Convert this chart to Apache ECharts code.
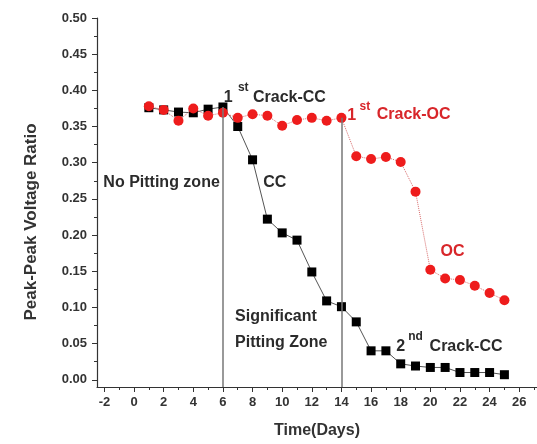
<!DOCTYPE html>
<html>
<head>
<meta charset="utf-8">
<script src="https://cdn.jsdelivr.net/npm/echarts@6/dist/echarts.min.js"></script>
<style>
html,body{margin:0;padding:0;background:#fff;}
#chart{width:537px;height:444px;}
</style>
</head>
<body>
<div id="chart"></div>
<script>
// ---- data ----
const ccDays = [1,2,3,4,5,6,7,8,9,10,11,12,13,14,15,16,17,18,19,20,21,22,23,24,25];
const ccValues = [0.376,0.373,0.370,0.369,0.374,0.377,0.350,0.304,0.222,0.203,0.193,0.149,0.109,0.101,0.080,0.040,0.040,0.022,0.019,0.017,0.017,0.010,0.010,0.010,0.007];
const ocDays = [1,2,3,4,5,6,7,8,9,10,11,12,13,14,15,16,17,18,19,20,21,22,23,24,25];
const ocValues = [0.378,0.373,0.358,0.375,0.365,0.369,0.362,0.367,0.365,0.351,0.359,0.362,0.358,0.362,0.309,0.305,0.308,0.301,0.260,0.152,0.140,0.138,0.130,0.120,0.110];
const xMajorTicks = [-2,0,2,4,6,8,10,12,14,16,18,20,22,24,26];
const xMinorTicks = [-1,1,3,5,7,9,11,13,15,17,19,21,23,25,27];
const yMajorTicks = [0,0.05,0.1,0.15,0.2,0.25,0.3,0.35,0.4,0.45,0.5];
const yMinorTicks = [0.025,0.075,0.125,0.175,0.225,0.275,0.325,0.375,0.425,0.475];
const crackLines = [[6,0.377],[14,0.362]];
// annotations: [text, day, value, color, size, align]
const BLK = '#2b2b2b', RED = '#d8262a';
const notes = [
  ['1', 6.35, 0.390, BLK, 16, 'center'],
  ['st', 7.37, 0.403, BLK, 12, 'center'],
  ['Crack-CC', 8.03, 0.390, BLK, 16, 'left'],
  ['1', 14.7, 0.365, RED, 16, 'center'],
  ['st', 15.58, 0.377, RED, 12, 'center'],
  ['Crack-OC', 16.38, 0.366, RED, 16, 'left'],
  ['No Pitting zone', -2.07, 0.272, BLK, 16, 'left'],
  ['CC', 9.5, 0.273, BLK, 16, 'center'],
  ['OC', 21.5, 0.177, RED, 16, 'center'],
  ['Significant', 6.82, 0.087, BLK, 16, 'left'],
  ['Pitting Zone', 6.82, 0.052, BLK, 16, 'left'],
  ['2', 18.0, 0.046, BLK, 16, 'center'],
  ['nd', 19.0, 0.059, BLK, 12, 'center'],
  ['Crack-CC', 19.95, 0.046, BLK, 16, 'left']
];

const FONT = '"Liberation Sans", Arial, sans-serif';
const X_MIN = -2.5, X_MAX = 27.2, Y_MIN = -0.01, Y_MAX = 0.5;

const chart = echarts.init(document.getElementById('chart'), null, {renderer:'canvas'});

const xBase = {
  type:'value', min:X_MIN, max:X_MAX, position:'bottom',
  splitLine:{show:false}
};
const yBase = {
  type:'value', min:Y_MIN, max:Y_MAX, position:'left',
  splitLine:{show:false}
};

const option = {
  animation:false,
  backgroundColor:'#fff',
  grid:{left:97, top:18, right:0, bottom:57, containLabel:false},
  xAxis:[
    Object.assign({}, xBase, {
      axisLine:{show:true, onZero:false, lineStyle:{color:'#333', width:1.2}},
      axisTick:{show:true, customValues:xMajorTicks, length:5, inside:false, lineStyle:{color:'#333'}},
      axisLabel:{show:true, customValues:xMajorTicks, margin:9, color:'#333', fontSize:13, fontWeight:'bold', fontFamily:FONT,
        formatter:(v)=>String(Math.round(v))},
      name:'Time(Days)', nameLocation:'middle', nameGap:36,
      nameTextStyle:{color:'#333', fontSize:16, fontWeight:'bold', fontFamily:FONT}
    }),
    Object.assign({}, xBase, {
      axisLine:{show:false, onZero:false},
      axisTick:{show:true, customValues:xMinorTicks, length:3, inside:false, lineStyle:{color:'#333'}},
      axisLabel:{show:false}
    })
  ],
  yAxis:[
    Object.assign({}, yBase, {
      axisLine:{show:true, onZero:false, lineStyle:{color:'#333', width:1.2}},
      axisTick:{show:true, customValues:yMajorTicks, length:5, inside:false, lineStyle:{color:'#333'}},
      axisLabel:{show:true, customValues:yMajorTicks, margin:10, color:'#333', fontSize:13, fontWeight:'bold', fontFamily:FONT,
        formatter:(v)=>v.toFixed(2)}
    }),
    Object.assign({}, yBase, {
      axisLine:{show:false, onZero:false},
      axisTick:{show:true, customValues:yMinorTicks, length:3, inside:false, lineStyle:{color:'#333'}},
      axisLabel:{show:false}
    })
  ],
  series:[
    {
      name:'CC', type:'line',
      data: ccDays.map((d,i)=>[d, ccValues[i]]),
      symbol:'rect', symbolSize:9,
      itemStyle:{color:'#000'},
      lineStyle:{color:'#555', width:1},
      markLine:{
        silent:true, symbol:'none', label:{show:false},
        lineStyle:{color:'#777', width:1.5, type:'solid'},
        data: crackLines.map(c=>[{coord:[c[0], Y_MIN]},{coord:[c[0], c[1]]}])
      },
      z:2
    },
    {
      name:'OC', type:'line',
      data: ocDays.map((d,i)=>[d, ocValues[i]]),
      symbol:'circle', symbolSize:10,
      itemStyle:{color:'#ee1c1c'},
      lineStyle:{color:'#d86a6a', width:1, type:'dotted'},
      z:3
    }
  ]
};
chart.setOption(option);

function addGraphics(){
  const els = notes.map(n=>{
    const p = chart.convertToPixel({xAxisIndex:0, yAxisIndex:0}, [n[1], n[2]]);
    return {
      type:'text', x:p[0], y:p[1], z:10,
      style:{text:n[0], fill:n[3], fontSize:n[4], fontWeight:'bold', fontFamily:FONT,
        align:n[5], verticalAlign:'middle'}
    };
  });
  els.push({
    type:'text', x:31, y:222, rotation:Math.PI/2, z:10,
    style:{text:'Peak-Peak Voltage Ratio', fill:'#333', fontSize:17, fontWeight:'bold', fontFamily:FONT,
      align:'center', verticalAlign:'middle'}
  });
  chart.setOption({graphic:{elements:els}});
}
addGraphics();
</script>
</body>
</html>
